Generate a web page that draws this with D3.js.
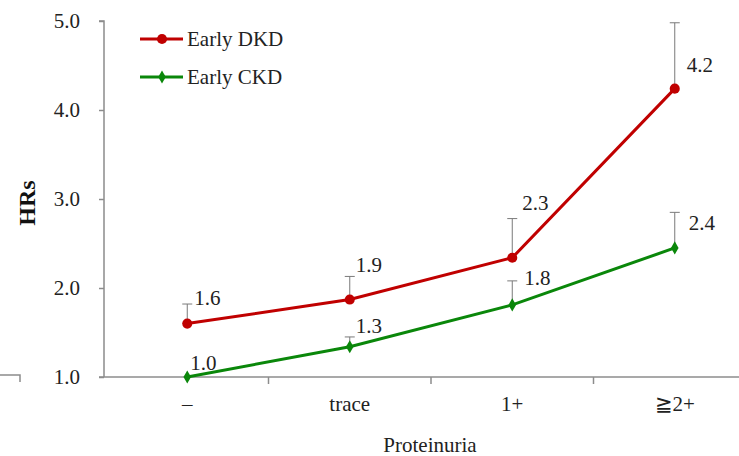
<!DOCTYPE html>
<html><head><meta charset="utf-8">
<script src="https://cdn.jsdelivr.net/npm/d3@7"></script>
<style>body{margin:0;background:#fff}svg{display:block}</style>
</head><body>
<script>
const categories = ["\u2013", "trace", "1+", "\u22672+"];
const dkdValues = [1.60, 1.87, 2.34, 4.24];
const dkdUpper = [1.82, 2.13, 2.78, 4.98];
const dkdLabels = ["1.6", "1.9", "2.3", "4.2"];
const ckdValues = [1.00, 1.34, 1.81, 2.45];
const ckdUpper = [1.00, 1.45, 2.08, 2.85];
const ckdLabels = ["1.0", "1.3", "1.8", "2.4"];
const yTicks = [1.0, 2.0, 3.0, 4.0, 5.0];

const W = 739, H = 456;
const svg = d3.select("body").append("svg").attr("width", W).attr("height", H);
const x = d3.scaleBand().domain(categories).range([106, 756]);
const y = d3.scaleLinear().domain([1, 5]).range([377, 21]);
const axisColor = "#8c8c8c";
const serif = "Liberation Serif, Times New Roman, serif";
const FS = 21;

// y axis
const yAxis = svg.append("g").attr("transform", "translate(104,0)")
  .call(d3.axisLeft(y).tickValues(yTicks).tickFormat(d3.format(".1f")).tickSize(5).tickPadding(19));
yAxis.attr("font-family", null).attr("font-size", null);
yAxis.select(".domain").attr("stroke", axisColor).attr("stroke-width", 1.5).attr("d", "M-5,21H0V377");
yAxis.selectAll(".tick line").attr("stroke", axisColor).attr("stroke-width", 1.5);
yAxis.selectAll(".tick text").style("font-family", serif).style("font-size", FS + "px").attr("fill", "#222");

// x axis
const xAxis = svg.append("g").attr("transform", "translate(0,377)")
  .call(d3.axisBottom(x).tickSize(0).tickPadding(0));
xAxis.attr("font-family", null).attr("font-size", null);
xAxis.select(".domain").attr("stroke", axisColor).attr("stroke-width", 1.5).attr("d", "M99,0H739");
xAxis.selectAll(".tick line").remove();
xAxis.selectAll(".tick text").attr("dy", null).attr("y", 34)
  .style("font-family", serif).style("font-size", FS + "px").attr("fill", "#222");
// category separators
categories.slice(1).forEach(c => {
  svg.append("line").attr("x1", x(c)).attr("x2", x(c)).attr("y1", 377).attr("y2", 384)
    .attr("stroke", axisColor).attr("stroke-width", 1.5);
});
// small stray bracket at left edge
svg.append("path").attr("d", "M0,375H20V382").attr("fill", "none").attr("stroke", axisColor).attr("stroke-width", 1.5);

// axis titles
svg.append("text").attr("transform", `translate(35,203) rotate(-90)`).attr("text-anchor", "middle")
  .style("font-family", serif).style("font-size", "24px").attr("font-weight", "bold").attr("fill", "#111").text("HRs");
svg.append("text").attr("x", 430).attr("y", 452).attr("text-anchor", "middle")
  .style("font-family", serif).style("font-size", FS + "px").attr("fill", "#222").text("Proteinuria");

const cx = c => x(c) + x.bandwidth() / 2;

function drawSeries(values, upper, labels, color, marker, labelDx, labelDy) {
  const g = svg.append("g");
  categories.forEach((c, i) => {
    if (upper[i] > values[i]) {
      g.append("line").attr("x1", cx(c)).attr("x2", cx(c)).attr("y1", y(values[i])).attr("y2", y(upper[i]))
        .attr("stroke", "#7a7a7a").attr("stroke-width", 1);
      g.append("line").attr("x1", cx(c) - 5).attr("x2", cx(c) + 5).attr("y1", y(upper[i])).attr("y2", y(upper[i]))
        .attr("stroke", "#7a7a7a").attr("stroke-width", 1);
    }
  });
  g.append("path").datum(values)
    .attr("d", d3.line().x((d, i) => cx(categories[i])).y(d => y(d)))
    .attr("fill", "none").attr("stroke", color).attr("stroke-width", 3);
  categories.forEach((c, i) => {
    g.append("path").attr("transform", `translate(${cx(c)},${y(values[i])})`)
      .attr("d", marker).attr("fill", color);
    g.append("text").attr("x", cx(c) + labelDx[i]).attr("y", y(values[i]) + labelDy[i])
      .style("font-family", serif).style("font-size", FS + "px").attr("fill", "#222").text(labels[i]);
  });
}
const circle = d3.symbol().type(d3.symbolCircle).size(80)();
const diamond = d3.symbol().type(d3.symbolDiamond).size(50)();

drawSeries(dkdValues, dkdUpper, dkdLabels, "#c00000", circle, [7, 6, 10, 12], [-19, -28, -48, -17]);
drawSeries(ckdValues, ckdUpper, ckdLabels, "#0a870a", diamond, [3, 6, 12, 14], [-7, -14, -20, -18]);

// legend
const legend = [["Early DKD", "#c00000", circle, 39], ["Early CKD", "#0a870a", diamond, 77]];
legend.forEach(([name, color, marker, ly]) => {
  svg.append("line").attr("x1", 140).attr("x2", 183).attr("y1", ly).attr("y2", ly).attr("stroke", color).attr("stroke-width", 3);
  svg.append("path").attr("transform", `translate(162,${ly})`).attr("d", marker).attr("fill", color);
  svg.append("text").attr("x", 187).attr("y", ly + 6.5)
    .style("font-family", serif).style("font-size", FS + "px").attr("fill", "#222").text(name);
});
</script>
</body></html>
